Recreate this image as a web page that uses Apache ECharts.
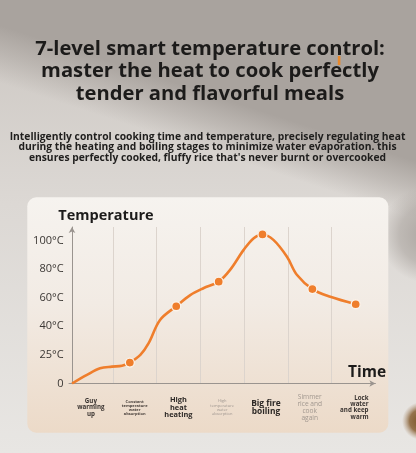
<!DOCTYPE html>
<html>
<head>
<meta charset="utf-8">
<script src="https://cdn.jsdelivr.net/npm/echarts@6/dist/echarts.min.js"></script>
<style>
html,body{margin:0;padding:0;background:#d9d5d1;}
#chart{width:416px;height:453px;}
</style>
</head>
<body>
<div id="chart"></div>
<script>
// ---- data ----
const titleLines = ['7-level smart temperature control:', 'master the heat to cook perfectly', 'tender and flavorful meals'];
const subtitleLines = [
  'Intelligently control cooking time and temperature, precisely regulating heat',
  'during the heating and boiling stages to minimize water evaporation. this',
  "ensures perfectly cooked, fluffy rice that's never burnt or overcooked"
];
const stages = [
  'Guy\nwarming\nup',
  'Constant\ntemperature\nwater\nabsorption',
  'High\nheat\nheating',
  'High\ntemperature\nwater\nabsorption',
  'Big fire\nboiling',
  'Simmer\nrice and\ncook\nagain',
  'Lock\nwater\nand keep\nwarm'
];
const stageStyles = ['a', 'b', 'c', 'd', 'e', 'f', 'g'];
const yTickLabels = ['0', '25°C', '40°C', '60°C', '80°C', '100°C'];
// curve: x in stage units, y in temperature-level units
const curveX = [0.07, 0.41, 0.71, 0.98, 1.21, 1.39, 1.63, 1.82, 2.08, 2.45, 2.77, 3.07, 3.42, 3.68, 3.99, 4.22, 4.42, 4.67, 4.98, 5.21, 5.56, 5.97, 6.55];
const curveY = [0.00, 0.30, 0.53, 0.59, 0.62, 0.73, 1.00, 1.41, 2.22, 2.70, 3.09, 3.33, 3.56, 3.97, 4.67, 5.08, 5.21, 5.02, 4.43, 3.79, 3.30, 3.03, 2.77];
const markerX = [1.39, 2.45, 3.42, 4.42, 5.56, 6.55];
const markerY = [0.73, 2.70, 3.56, 5.21, 3.30, 2.77];

const ORANGE = '#EF7E2C';
const FONT = 'Open Sans';

const chart = echarts.init(document.getElementById('chart'), null, {renderer: 'canvas'});

const option = {
  animation: false,
  backgroundColor: '#e2dfdc',
  graphic: [
    { type: 'rect', z: -20, shape: {x: 0, y: 0, width: 416, height: 453},
      style: {fill: new echarts.graphic.LinearGradient(0, 0, 0, 1, [
        {offset: 0, color: '#cbc6c1'}, {offset: 0.45, color: '#dcd8d4'}, {offset: 1, color: '#e8e6e3'}])} },
    { type: 'rect', z: -19, shape: {x: 0, y: 0, width: 416, height: 453},
      style: {fill: new echarts.graphic.LinearGradient(216, 96, 199, 148, [
        {offset: 0, color: 'rgba(169,163,158,1)'}, {offset: 0.5, color: 'rgba(172,166,161,0.55)'}, {offset: 1, color: 'rgba(175,169,164,0)'}], true)} },
    { type: 'ellipse', z: -18, shape: {cx: 428, cy: 235, rx: 48, ry: 95},
      style: {fill: new echarts.graphic.RadialGradient(0.5, 0.5, 0.5, [
        {offset: 0, color: 'rgba(168,162,157,0.95)'}, {offset: 0.6, color: 'rgba(170,164,159,0.6)'}, {offset: 1, color: 'rgba(175,169,164,0)'}])} },
    { type: 'circle', z: -17, shape: {cx: 421, cy: 421, r: 19},
      style: {fill: new echarts.graphic.RadialGradient(0.5, 0.5, 0.5, [
        {offset: 0, color: 'rgba(120,80,35,1)'}, {offset: 0.6, color: 'rgba(135,95,50,0.85)'}, {offset: 1, color: 'rgba(170,140,110,0)'}])} },
    { type: 'rect', z: -10, shape: {x: 27.3, y: 197.3, width: 361, height: 235.4, r: 9},
      style: {fill: new echarts.graphic.LinearGradient(0, 0, 0, 1, [
        {offset: 0, color: '#f6f3ef'}, {offset: 0.45, color: '#f2ebe4'}, {offset: 1, color: '#ecdac8'}])} },
    { type: 'rect', z: 5, shape: {x: 337.8, y: 56, width: 2.6, height: 9},
      style: {fill: '#e8892c'} },
    { type: 'text', z: 5, x: 210, y: 37.5,
      style: {text: titleLines.join('\n'), fill: '#1c1b1a',
        fontSize: 20.2, fontWeight: 'bold', fontFamily: FONT, lineHeight: 22.5, align: 'center', verticalAlign: 'top'} },
    { type: 'text', z: 5, x: 207.5, y: 131.3,
      style: {text: subtitleLines.join('\n'), fill: '#1f1e1d',
        fontSize: 10.3, fontWeight: 'bold', fontFamily: FONT, lineHeight: 10.7, align: 'center', verticalAlign: 'top'} },
    { type: 'text', z: 5, x: 58.3, y: 216,
      style: {text: 'Temperature', fill: '#1c1b1a', fontSize: 14.5, fontWeight: 'bold', fontFamily: FONT,
        align: 'left', verticalAlign: 'middle'} },
    { type: 'text', z: 5, x: 367, y: 372.5,
      style: {text: 'Time', fill: '#1c1b1a', fontSize: 15.5, fontWeight: 'bold', fontFamily: FONT,
        align: 'center', verticalAlign: 'middle'} }
  ],
  grid: {left: 69, right: 40.6, top: 227, bottom: 69.5, containLabel: false},
  xAxis: [
    {
      type: 'category', data: stages, boundaryGap: true,
      axisLine: {show: true, lineStyle: {color: '#9a948f', width: 1}, symbol: ['none', 'arrow'], symbolSize: [5, 6]},
      axisTick: {show: false},
      splitLine: {show: false},
      axisLabel: {
        interval: 0, margin: 24, verticalAlign: 'middle', fontFamily: FONT,
        formatter: (v, i) => '{' + stageStyles[i] + '|' + v + '}',
        rich: {
          a: {fontSize: 6.2, fontWeight: 'bold', color: '#3a3431', lineHeight: 6.3, fontFamily: FONT, align: 'center'},
          b: {fontSize: 4, fontWeight: 'bold', color: '#4a423d', lineHeight: 4, fontFamily: FONT, align: 'center'},
          c: {fontSize: 7.4, fontWeight: 'bold', color: '#2d2926', lineHeight: 7.3, fontFamily: FONT, align: 'center'},
          d: {fontSize: 4, fontWeight: 'normal', color: '#9d958f', lineHeight: 4.2, fontFamily: FONT, align: 'center'},
          e: {fontSize: 8.4, fontWeight: 'bold', color: '#2d2926', lineHeight: 8, fontFamily: FONT, align: 'center'},
          f: {fontSize: 6.6, fontWeight: 'normal', color: '#a1978f', lineHeight: 7, fontFamily: FONT, align: 'center'},
          g: {fontSize: 6.2, fontWeight: 'bold', color: '#3a3431', lineHeight: 6.4, fontFamily: FONT, align: 'right', width: 30}
        }
      }
    },
    {
      type: 'value', min: 0, max: 7, interval: 1, position: 'bottom',
      axisLine: {show: false}, axisTick: {show: false}, axisLabel: {show: false},
      splitLine: {show: true, showMinLine: false, showMaxLine: false, lineStyle: {color: '#dcd4cd', width: 1}}
    }
  ],
  yAxis: {
    type: 'value', min: 0, max: 5.47, interval: 1, offset: -3,
    axisLine: {show: true, lineStyle: {color: '#9a948f', width: 1}, symbol: ['none', 'arrow'], symbolSize: [5, 6]},
    axisTick: {show: false},
    splitLine: {show: false},
    axisLabel: {
      margin: 8.4, color: '#3b3734', fontSize: 11, fontFamily: FONT,
      formatter: v => Number.isInteger(v) ? yTickLabels[v] : ''
    }
  },
  series: [
    {
      type: 'line', xAxisIndex: 1, smooth: 0.35, showSymbol: false, symbol: 'none',
      data: curveX.map((x, i) => [x, curveY[i]]),
      lineStyle: {color: ORANGE, width: 2.6}, z: 3
    },
    {
      type: 'scatter', xAxisIndex: 1, symbolSize: 9,
      data: markerX.map((x, i) => [x, markerY[i]]),
      itemStyle: {color: ORANGE, borderColor: '#fbf3ea', borderWidth: 1.3, opacity: 1}, z: 4
    }
  ]
};
chart.setOption(option);
</script>
</body>
</html>
